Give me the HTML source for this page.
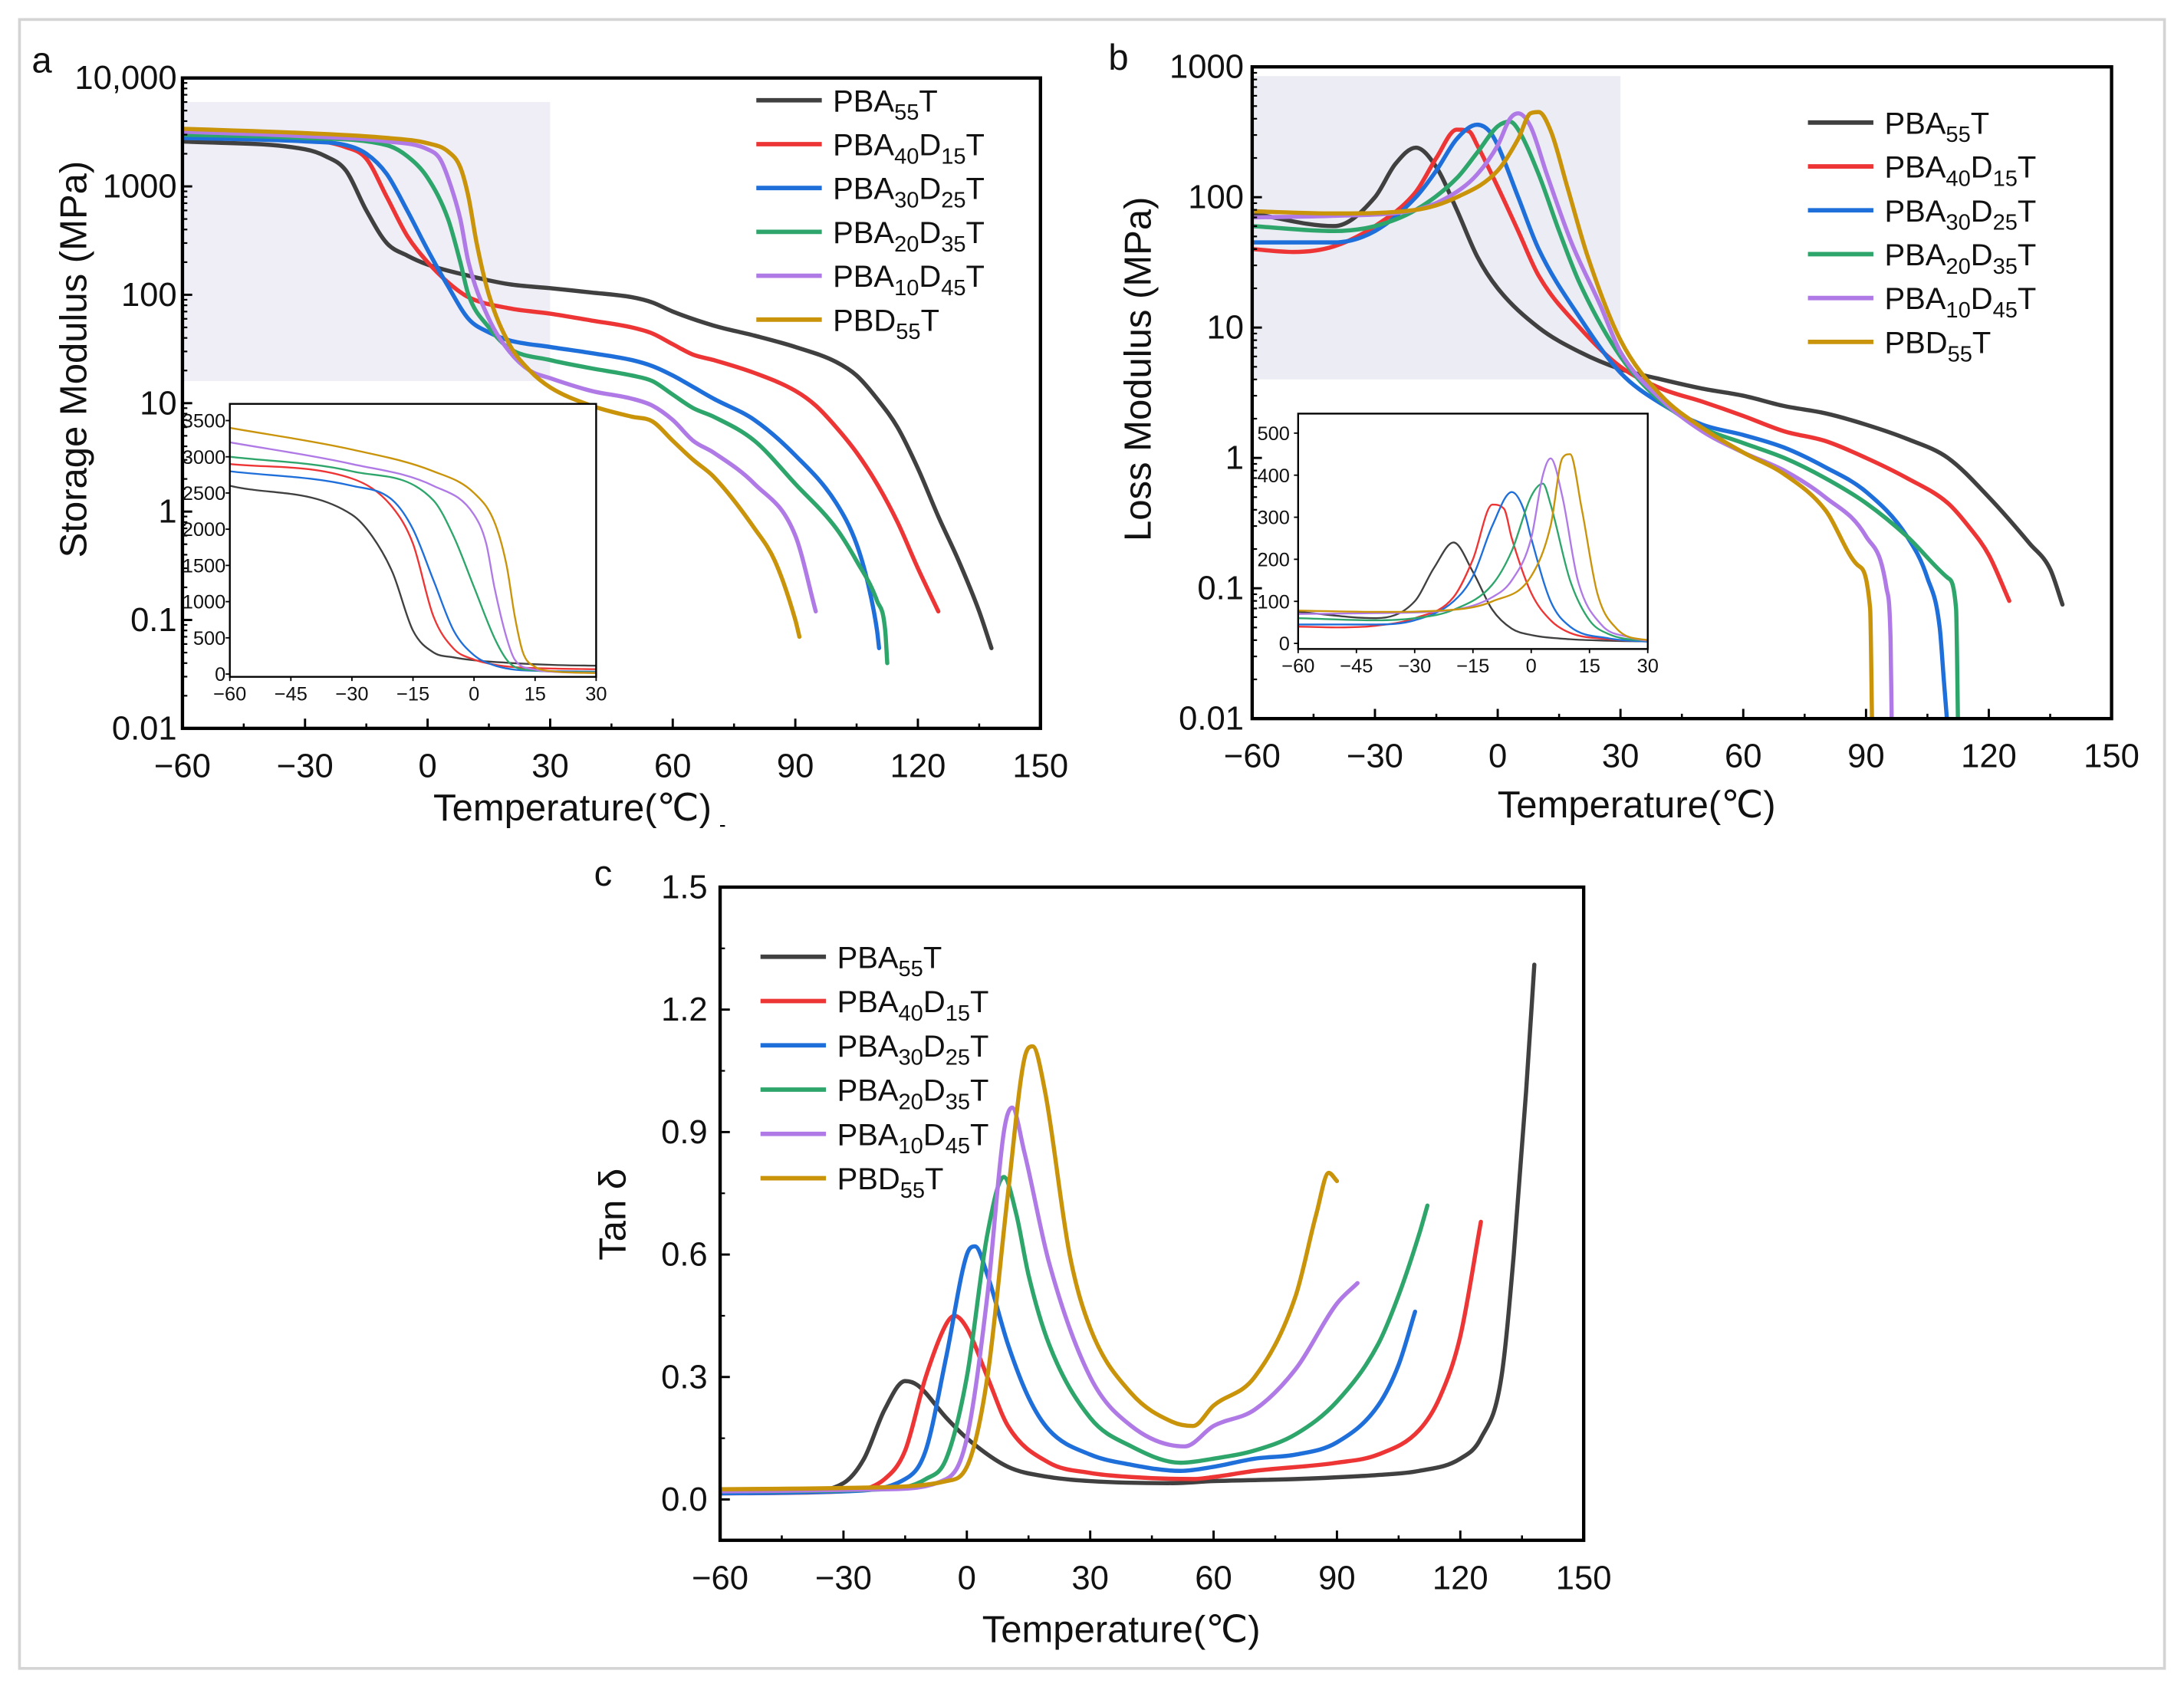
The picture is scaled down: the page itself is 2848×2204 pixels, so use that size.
<!DOCTYPE html>
<html><head><meta charset="utf-8">
<style>
html,body{margin:0;padding:0;background:#fff;}
svg{display:block;}
text{font-family:"Liberation Sans",Arial,sans-serif;fill:#111;}
</style></head>
<body>
<svg id="fig" xmlns="http://www.w3.org/2000/svg" width="2848" height="2204" viewBox="0 0 1568 1213.5" preserveAspectRatio="none">
<rect x="14" y="14" width="1540" height="1184" fill="#fff" stroke="#d4d4d4" stroke-width="2"/>
</svg>
<script>
const seriesNames = ["PBA55T","PBA40D15T","PBA30D25T","PBA20D35T","PBA10D45T","PBD55T"];
const seriesColors = ["#404040","#ee3535","#1f6fdb","#2ea66b","#b07ae6","#c9930a"];
const legendMain = ["PBA","PBA","PBA","PBA","PBA","PBD"];
const legendSub1 = ["55","40","30","20","10","55"];
const legendMid = ["T","D","D","D","D","T"];
const legendSub2 = ["","15","25","35","45",""];

// Storage modulus (MPa)
const sT0 = [-60,-30,-25,-20,-15,-10,-5,0,10,20,30,40,50,55,60,70,80,90,100,105,110,115,120,125,130,135,138];
const sV0 = [2600,2200,1900,1400,600,300,230,190,150,125,115,105,95,85,70,52,42,33,24,18,11,6,2.5,0.9,0.35,0.12,0.055];
const sT1 = [-60,-30,-20,-15,-10,-5,0,5,10,20,30,40,50,55,60,65,70,80,90,95,100,105,110,115,120,125];
const sV1 = [2900,2700,2300,1800,800,350,200,130,95,75,67,58,50,44,35,28,25,19,13,9.5,6,3.5,1.8,0.8,0.3,0.12];
const sT2 = [-60,-30,-20,-15,-10,-5,0,5,10,15,20,30,40,50,55,60,70,80,90,100,105,108,110,110.5];
const sV2 = [2800,2600,2400,2000,1300,600,260,120,60,45,38,33,29,25,22,18,11,7,3.3,1.2,0.5,0.2,0.08,0.055];
const sT3 = [-60,-30,-10,-5,0,5,8,10,15,20,30,40,50,55,60,65,70,80,90,100,105,110,112,112.5];
const sV3 = [3000,2800,2400,1900,1200,500,200,100,50,32,25,21,18,16,12,9,7.5,4.5,1.8,0.7,0.35,0.15,0.08,0.04];
const sT4 = [-60,-30,-10,0,3,5,8,10,15,20,25,30,40,50,55,60,65,70,80,90,95];
const sV4 = [3200,2900,2600,2200,1800,1200,500,200,60,30,20,17,13,11,9.5,7,4.5,3.5,1.8,0.6,0.12];
const sT5 = [-60,-30,-10,0,5,8,10,12,15,20,25,30,40,50,55,60,65,70,80,85,90,91];
const sV5 = [3400,3100,2800,2500,2100,1500,800,300,100,35,20,14,9.5,7.5,6.8,4.5,3,2.1,0.7,0.35,0.1,0.07];

// Loss modulus (MPa)
const lT0 = [-60,-40,-30,-25,-20,-15,-10,-5,0,10,20,30,40,50,60,70,80,90,100,110,120,130,135,138];
const lV0 = [75,60,100,180,240,170,80,35,20,10,6.5,4.8,4,3.4,3,2.5,2.2,1.8,1.4,1,0.5,0.22,0.14,0.075];
const lT1 = [-60,-50,-40,-30,-20,-15,-10,-7,-5,0,5,10,20,30,40,50,60,70,80,90,100,110,115,120,125];
const lV1 = [40,38,42,60,110,200,330,320,250,120,55,25,10,5,3.4,2.7,2.1,1.6,1.35,1,0.7,0.45,0.3,0.18,0.08];
const lT2 = [-60,-40,-30,-20,-15,-10,-5,-2,0,5,10,20,30,40,50,60,70,80,90,100,105,108,109,110];
const lV2 = [45,45,55,100,160,280,360,320,250,100,40,12,4.5,2.6,1.8,1.5,1.2,0.85,0.55,0.25,0.12,0.05,0.02,0.008];
const lT3 = [-60,-40,-30,-20,-10,-5,0,3,5,10,15,20,30,40,50,60,70,80,90,100,110,112,112.5];
const lV3 = [60,55,60,80,140,220,350,380,330,150,55,22,6,2.7,1.7,1.3,1,0.7,0.45,0.25,0.12,0.07,0.008];
const lT4 = [-60,-40,-20,-10,-5,0,3,5,8,12,18,25,30,40,50,60,70,80,90,95,96,96.3];
const lV4 = [70,72,80,110,150,250,400,440,350,150,45,15,6.5,2.8,1.6,1.1,0.8,0.5,0.25,0.1,0.04,0.008];
const lT5 = [-60,-40,-20,-10,0,5,8,10,13,17,22,30,40,50,60,70,80,88,91,91.5];
const lV5 = [78,75,80,100,160,280,440,450,320,120,35,8,3,1.7,1.1,0.75,0.4,0.15,0.07,0.008];

// Tan delta
const tT0 = [-60,-40,-30,-25,-20,-15,-12,-5,0,10,20,30,50,60,80,100,110,120,125,130,133,136,138];
const tV0 = [0.02,0.02,0.04,0.1,0.22,0.29,0.28,0.2,0.15,0.08,0.055,0.045,0.04,0.045,0.05,0.06,0.07,0.1,0.15,0.3,0.6,1.0,1.31];
const tT1 = [-60,-30,-20,-15,-10,-5,-3,0,5,10,20,30,40,55,60,70,90,100,110,115,120,125];
const tV1 = [0.015,0.02,0.05,0.12,0.3,0.43,0.45,0.42,0.3,0.18,0.09,0.065,0.055,0.05,0.055,0.07,0.09,0.11,0.17,0.25,0.4,0.68];
const tT2 = [-60,-30,-15,-10,-5,0,2,5,10,15,20,30,40,52,60,70,80,90,100,105,109];
const tV2 = [0.015,0.02,0.05,0.12,0.35,0.6,0.62,0.55,0.38,0.25,0.17,0.11,0.085,0.07,0.08,0.1,0.11,0.14,0.23,0.33,0.46];
const tT3 = [-60,-20,-10,-5,0,5,9,12,15,20,30,40,52,60,70,80,90,100,105,110,112];
const tV3 = [0.02,0.025,0.05,0.1,0.3,0.65,0.79,0.7,0.55,0.38,0.2,0.13,0.09,0.1,0.12,0.16,0.24,0.38,0.5,0.65,0.72];
const tT4 = [-60,-20,-5,0,5,9,11,14,20,30,40,53,60,70,80,90,95];
const tV4 = [0.02,0.025,0.05,0.15,0.5,0.9,0.96,0.85,0.58,0.3,0.18,0.13,0.18,0.22,0.32,0.48,0.53];
const tT5 = [-60,-20,-5,0,5,10,14,16,19,25,30,40,50,55,60,70,80,85,88,90];
const tV5 = [0.025,0.03,0.045,0.08,0.3,0.75,1.08,1.11,1.0,0.6,0.42,0.26,0.19,0.18,0.23,0.3,0.5,0.7,0.8,0.78];

const xTicks = [-60,-30,0,30,60,90,120,150];
const aYTicks = [0.01,0.1,1,10,100,1000,10000];
const aYLabels = ["0.01","0.1","1","10","100","1000","10,000"];
const bYTicks = [0.01,0.1,1,10,100,1000];
const bYLabels = ["0.01","0.1","1","10","100","1000"];
const cYTicks = [0,0.3,0.6,0.9,1.2,1.5];
const cYLabels = ["0.0","0.3","0.6","0.9","1.2","1.5"];
const insetXTicks = [-60,-45,-30,-15,0,15,30];
const insetAYTicks = [0,500,1000,1500,2000,2500,3000,3500];
const insetBYTicks = [0,100,200,300,400,500];

const NS = "http://www.w3.org/2000/svg";
const svg = document.getElementById("fig");
function mk(tag, attrs, parent){
  const e = document.createElementNS(NS, tag);
  for (const k in attrs) e.setAttribute(k, attrs[k]);
  (parent||svg).appendChild(e);
  return e;
}
// monotone cubic (Fritsch-Carlson) in pixel space
function pathFrom(pts){
  const n=pts.length;
  if (n<2) return "";
  const dx=[],dy=[],m=[];
  for(let i=0;i<n-1;i++){dx.push(pts[i+1][0]-pts[i][0]);dy.push(pts[i+1][1]-pts[i][1]);m.push(dx[i]===0?0:dy[i]/dx[i]);}
  const t=[m[0]];
  for(let i=1;i<n-1;i++){ t.push(m[i-1]*m[i]<=0?0:(m[i-1]+m[i])/2); }
  t.push(m[n-2]);
  for(let i=0;i<n-1;i++){
    if(m[i]===0){t[i]=0;t[i+1]=0;continue;}
    const a=t[i]/m[i], b=t[i+1]/m[i], s=a*a+b*b;
    if(s>9){const k=3/Math.sqrt(s);t[i]=k*a*m[i];t[i+1]=k*b*m[i];}
  }
  let d="M"+pts[0][0].toFixed(2)+","+pts[0][1].toFixed(2);
  for(let i=0;i<n-1;i++){
    const h=dx[i]/3;
    d+=" C"+(pts[i][0]+h).toFixed(2)+","+(pts[i][1]+t[i]*h).toFixed(2)+" "+(pts[i+1][0]-h).toFixed(2)+","+(pts[i+1][1]-t[i+1]*h).toFixed(2)+" "+pts[i+1][0].toFixed(2)+","+pts[i+1][1].toFixed(2);
  }
  return d;
}
function linScale(d0,d1,r0,r1){return v=>r0+(v-d0)/(d1-d0)*(r1-r0);}
function logScale(d0,d1,r0,r1){return v=>r0+(Math.log10(v)-Math.log10(d0))/(Math.log10(d1)-Math.log10(d0))*(r1-r0);}

function txt(x,y,s,size,anchor,parent,name){
  const t = mk("text",{x:x,y:y,"font-size":size,"text-anchor":anchor||"middle"},parent);
  t.textContent = s;
  
  
  return t;
}

function drawSeries(g, Ts, Vs, sx, sy, width, clipId, prefix){
  for (let i=0;i<Ts.length;i++){
    const pts = Ts[i].map((t,j)=>[sx(t), sy(Vs[i][j])]);
    const p = mk("path",{d:pathFrom(pts),fill:"none",stroke:seriesColors[i],"stroke-width":width,"stroke-linejoin":"round","stroke-linecap":"round"},g);
    if (clipId) p.setAttribute("clip-path","url(#"+clipId+")");
    
    
  }
}

function legend(g, x, y0, dy){
  for (let i=0;i<6;i++){
    const y = y0+i*dy;
    const ln = mk("line",{x1:x,y1:y,x2:x+47,y2:y,stroke:seriesColors[i],"stroke-width":3.2},g);
    
    
    const t = mk("text",{x:x+55,y:y+8,"font-size":22},g);
    
    
    const a = document.createElementNS(NS,"tspan"); a.textContent = legendMain[i]; t.appendChild(a);
    const b = document.createElementNS(NS,"tspan"); b.textContent = legendSub1[i]; b.setAttribute("font-size","16"); b.setAttribute("dy","6"); t.appendChild(b);
    const c = document.createElementNS(NS,"tspan"); c.textContent = legendMid[i]; c.setAttribute("dy","-6"); t.appendChild(c);
    if (legendSub2[i]){
      const d = document.createElementNS(NS,"tspan"); d.textContent = legendSub2[i]; d.setAttribute("font-size","16"); d.setAttribute("dy","6"); t.appendChild(d);
      const e = document.createElementNS(NS,"tspan"); e.textContent = "T"; e.setAttribute("dy","-6"); t.appendChild(e);
    }
  }
}

function xAxis(g, sx, yb, yt, ticks, fs, len, lblOff, minor){
  ticks.forEach(t=>{
    const l = mk("line",{x1:sx(t),y1:yb,x2:sx(t),y2:yb-len,stroke:"#000","stroke-width":1.6},g);
    
    
    txt(sx(t), yb+lblOff, (t<0?"\u2212"+(-t):""+t), fs, "middle", g, "x-tick-label");
  });
  if (minor){
    for (let i=0;i<ticks.length-1;i++){
      const m=(ticks[i]+ticks[i+1])/2;
      const l = mk("line",{x1:sx(m),y1:yb,x2:sx(m),y2:yb-len/2,stroke:"#000","stroke-width":1.4},g);
      
      
    }
  }
}

function frame(g,x0,y0,x1,y1,w,name){
  const r = mk("rect",{x:x0,y:y0,width:x1-x0,height:y1-y0,fill:"none",stroke:"#000","stroke-width":w},g);
  
  
}

function clip(id,x0,y0,x1,y1){
  let defs = svg.querySelector("defs") || mk("defs",{});
  const c = mk("clipPath",{id:id},defs);
  mk("rect",{x:x0,y:y0,width:x1-x0,height:y1-y0},c);
}

// ---------- Panel a ----------
(function(){
  const g = mk("g",{});  
  const X0=131,X1=747,Y0=56,Y1=523;
  const sx=linScale(-60,150,X0,X1), sy=logScale(0.01,10000,Y1,Y0);
  const sh = mk("rect",{x:X0+1,y:sy(6000),width:sx(30)-X0-1,height:sy(16)-sy(6000),fill:"#efeef6"},g);
   
  clip("clipA",X0,Y0,X1,Y1);
  drawSeries(g,[sT0,sT1,sT2,sT3,sT4,sT5],[sV0,sV1,sV2,sV3,sV4,sV5],sx,sy,3,"clipA","storage-line");
  frame(g,X0,Y0,X1,Y1,2.4,"plot-frame");
  xAxis(g,sx,Y1,Y0,xTicks,24,7,35,true);
  aYTicks.forEach((v,i)=>{
    const l=mk("line",{x1:X0,y1:sy(v),x2:X0+7,y2:sy(v),stroke:"#000","stroke-width":1.6},g);
     
    txt(X0-4,sy(v)+8,aYLabels[i],24,"end",g,"y-tick-label");
    if (i<aYTicks.length-1) for(let k=2;k<10;k++){
      const m=mk("line",{x1:X0,y1:sy(v*k),x2:X0+3.5,y2:sy(v*k),stroke:"#000","stroke-width":1.2},g);
       
    }
  });
  const yt=txt(0,0,"Storage Modulus (MPa)",27,"middle",g,"y-axis-title");
  yt.setAttribute("transform","translate(62,258) rotate(-90)");
  txt(411,589,"Temperature(\u2103)",27,"middle",g,"x-axis-title");
  txt(30,52,"a",26,"middle",g,"panel-label-a");
  legend(g,543,72,31.5);
  // inset
  const IX0=165,IX1=428,IY0=290,IY1=486;
  const ix=linScale(-60,30,IX0,IX1), iy=linScale(0,3500,IY1-2,302);
  const bg=mk("rect",{x:IX0,y:IY0,width:IX1-IX0,height:IY1-IY0,fill:"#fff"},g);
   
  clip("clipAi",IX0,IY0,IX1,IY1);
  drawSeries(g,[sT0,sT1,sT2,sT3,sT4,sT5],[sV0,sV1,sV2,sV3,sV4,sV5],ix,iy,1.3,"clipAi","inset-storage-line");
  frame(g,IX0,IY0,IX1,IY1,1.3,"inset-frame");
  insetXTicks.forEach(t=>{
    const l=mk("line",{x1:ix(t),y1:IY1,x2:ix(t),y2:IY1+3,stroke:"#000","stroke-width":1},g);
     
    txt(ix(t),IY1+17,(t<0?"\u2212"+(-t):""+t),14,"middle",g,"inset-x-tick-label");
  });
  insetAYTicks.forEach(v=>{
    const l=mk("line",{x1:IX0,y1:iy(v),x2:IX0-3,y2:iy(v),stroke:"#000","stroke-width":1},g);
     
    txt(IX0-3,iy(v)+5,""+v,14,"end",g,"inset-y-tick-label");
  });
})();

// ---------- Panel b ----------
(function(){
  const g = mk("g",{});  
  const X0=899,X1=1516,Y0=48,Y1=516;
  const sx=linScale(-60,150,X0,X1), sy=logScale(0.01,1000,Y1,Y0);
  const sh = mk("rect",{x:X0+1,y:sy(850),width:sx(30)-X0-1,height:sy(4)-sy(850),fill:"#ececf4"},g);
   
  clip("clipB",X0,Y0,X1,Y1);
  drawSeries(g,[lT0,lT1,lT2,lT3,lT4,lT5],[lV0,lV1,lV2,lV3,lV4,lV5],sx,sy,3,"clipB","loss-line");
  frame(g,X0,Y0,X1,Y1,2.4,"plot-frame");
  xAxis(g,sx,Y1,Y0,xTicks,24,7,35,true);
  bYTicks.forEach((v,i)=>{
    const l=mk("line",{x1:X0,y1:sy(v),x2:X0+7,y2:sy(v),stroke:"#000","stroke-width":1.6},g);
     
    txt(X0-6,sy(v)+8,bYLabels[i],24,"end",g,"y-tick-label");
    if (i<bYTicks.length-1) for(let k=2;k<10;k++){
      const m=mk("line",{x1:X0,y1:sy(v*k),x2:X0+3.5,y2:sy(v*k),stroke:"#000","stroke-width":1.2},g);
       
    }
  });
  const yt=txt(0,0,"Loss Modulus (MPa)",27,"middle",g,"y-axis-title");
  yt.setAttribute("transform","translate(826,265) rotate(-90)");
  txt(1175,587,"Temperature(\u2103)",27,"middle",g,"x-axis-title");
  txt(803,50,"b",26,"middle",g,"panel-label-b");
  legend(g,1298,88,31.5);
  const IX0=932,IX1=1183,IY0=297,IY1=466;
  const ix=linScale(-60,30,IX0,IX1), iy=linScale(0,500,462,311);
  const bg=mk("rect",{x:IX0,y:IY0,width:IX1-IX0,height:IY1-IY0,fill:"#fff"},g);
   
  clip("clipBi",IX0,IY0,IX1,IY1);
  drawSeries(g,[lT0,lT1,lT2,lT3,lT4,lT5],[lV0,lV1,lV2,lV3,lV4,lV5],ix,iy,1.3,"clipBi","inset-loss-line");
  frame(g,IX0,IY0,IX1,IY1,1.3,"inset-frame");
  insetXTicks.forEach(t=>{
    const l=mk("line",{x1:ix(t),y1:IY1,x2:ix(t),y2:IY1+3,stroke:"#000","stroke-width":1},g);
     
    txt(ix(t),IY1+17,(t<0?"\u2212"+(-t):""+t),14,"middle",g,"inset-x-tick-label");
  });
  insetBYTicks.forEach(v=>{
    const l=mk("line",{x1:IX0,y1:iy(v),x2:IX0-3,y2:iy(v),stroke:"#000","stroke-width":1},g);
     
    txt(IX0-6,iy(v)+5,""+v,14,"end",g,"inset-y-tick-label");
  });
})();

// ---------- Panel c ----------
(function(){
  const g = mk("g",{});  
  const X0=517,X1=1137,Y0=637,Y1=1106;
  const sx=linScale(-60,150,X0,X1), sy=linScale(-0.1,1.5,Y1,Y0);
  clip("clipC",X0,Y0,X1,Y1);
  drawSeries(g,[tT0,tT1,tT2,tT3,tT4,tT5],[tV0,tV1,tV2,tV3,tV4,tV5],sx,sy,3,"clipC","tan-delta-line");
  frame(g,X0,Y0,X1,Y1,2.4,"plot-frame");
  xAxis(g,sx,Y1,Y0,xTicks,24,7,35,true);
  cYTicks.forEach((v,i)=>{
    const l=mk("line",{x1:X0,y1:sy(v),x2:X0+7,y2:sy(v),stroke:"#000","stroke-width":1.6},g);
     
    txt(X0-9,sy(v)+8,cYLabels[i],24,"end",g,"y-tick-label");
    const m=mk("line",{x1:X0,y1:sy(v+0.15),x2:X0+3.5,y2:sy(v+0.15),stroke:"#000","stroke-width":1.2},g);
     
  });
  const yt=txt(0,0,"Tan \u03b4",27,"middle",g,"y-axis-title");
  yt.setAttribute("transform","translate(449,872) rotate(-90)");
  txt(805,1179,"Temperature(\u2103)",27,"middle",g,"x-axis-title");
  txt(433,636,"c",26,"middle",g,"panel-label-c");
  legend(g,546,687,31.8);
})();
</script>
</body></html>
